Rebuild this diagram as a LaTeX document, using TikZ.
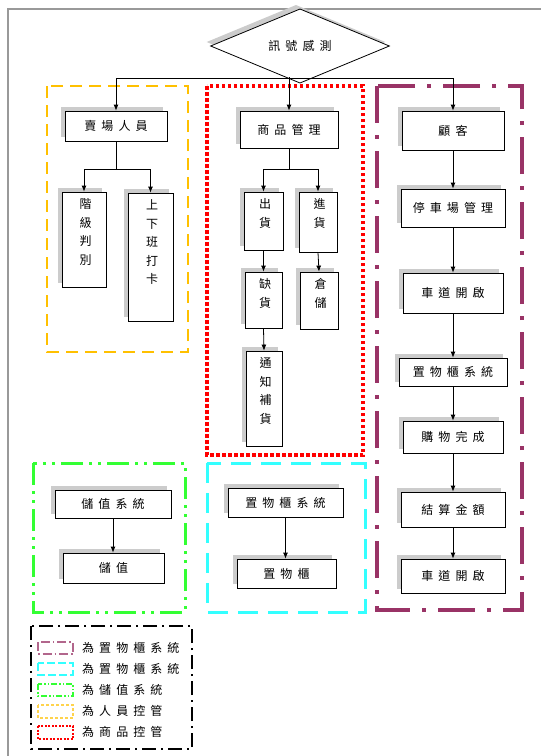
\documentclass[tikz,border=0pt]{standalone}
\usepackage{fontspec}
\usepackage{xcolor}
\usepackage{tikz}
\usetikzlibrary{arrows.meta,calc,shapes.geometric,shadows}
\newfontfamily\cjk[LetterSpace=42]{Noto Sans CJK TC}
\definecolor{lila}{HTML}{993366}
\definecolor{gelb}{HTML}{FFC000}
\definecolor{gruen}{HTML}{33FF33}
\definecolor{tuerkis}{HTML}{33FFFF}
\tikzset{
  schatten/.style={drop shadow={shadow xshift=-4pt,shadow yshift=4pt,fill=gray!40,opacity=1}},
  kasten/.style={draw,line width=0.8pt,fill=white,inner sep=0pt,schatten,
    font=\cjk\fontsize{12}{18}\selectfont},
  raute/.style={diamond,draw,line width=0.8pt,fill=white,inner sep=0pt,schatten,
    minimum width=179pt,minimum height=52pt,font=\cjk\fontsize{12}{18}\selectfont},
  hochtext/.style={anchor=north,yshift=-7pt,xshift=1.5pt,inner sep=0pt,align=center,
    font=\cjk\fontsize{12}{18.5}\selectfont},
  pfeil/.style={line width=0.8pt,-{Latex[length=6pt,width=5pt]}},
  lilarahmen/.style={lila,line width=4pt,dash pattern=on 37pt off 12pt on 4pt off 12pt},
  rotrahmen/.style={red,line width=4pt,dash pattern=on 3.5pt off 2.5pt},
  gelbrahmen/.style={gelb,line width=2pt,dash pattern=on 12pt off 7pt},
  gruenrahmen/.style={gruen,line width=3pt,dash pattern=on 22pt off 6pt on 3pt off 6pt on 3pt off 6pt},
  tuerkisrahmen/.style={tuerkis,line width=3pt,dash pattern=on 20pt off 10pt},
  legrahmen/.style={black,line width=2pt,dash pattern=on 14pt off 5pt on 2pt off 5pt},
  legtext/.style={anchor=west,inner sep=0pt,font=\cjk\fontsize{12}{18}\selectfont}
}
\newcommand{\Kasten}[6]{%
  \node[kasten,minimum width={#4-#2},minimum height={#5-#3}] (#1) at ({(#2+#4)/2},{(#3+#5)/2}) {#6};
}
\newcommand{\Hochkasten}[6]{%
  \node[kasten,minimum width={#4-#2},minimum height={#5-#3},
    label={[hochtext]north:{#6}}] (#1) at ({(#2+#4)/2},{(#3+#5)/2}) {};
}

\begin{document}
\begin{tikzpicture}[x=1pt,y=-1pt]
  \useasboundingbox (0,0) rectangle (541,756);
  \draw[gray!80,line width=1.2pt] (8,770) -- (8,9) -- (560,9);

  \draw[gelbrahmen] (47,86) rectangle (188,352);
  \draw[rotrahmen] (207,86) rectangle (363,455);
  \draw[lilarahmen] (377,86) rectangle (522,610);
  \draw[gruenrahmen] (33,463) rectangle (185,612);
  \draw[tuerkisrahmen] (207,463) rectangle (365,612);
  \draw[legrahmen] (31,626) rectangle (192,749);

  \node[raute] (sig) at (300,46) {訊號感測};

  \Kasten{staff}{65}{111}{167}{141}{賣場人員}
  \Hochkasten{rank}{62}{192}{106}{287}{階\\級\\判\\別}
  \Hochkasten{clock}{128}{193}{173}{321}{上\\下\\班\\打\\卡}

  \Kasten{goods}{240}{111}{338}{148}{商品管理}
  \Hochkasten{outbound}{244}{192}{283}{250}{出\\貨}
  \Hochkasten{inbound}{299}{192}{337}{252}{進\\貨}
  \Hochkasten{short}{245}{272}{282}{328}{缺\\貨}
  \Hochkasten{store}{300}{272}{338}{329}{倉\\儲}
  \Hochkasten{notify}{246}{351}{282}{446}{通\\知\\補\\貨}

  \Kasten{cust}{402}{111}{504}{150}{顧客}
  \Kasten{park}{401}{189}{505}{227}{停車場管理}
  \Kasten{laneA}{403}{273}{503}{313}{車道開啟}
  \Kasten{locker}{399}{358}{507}{386}{置物櫃系統}
  \Kasten{done}{403}{421}{503}{453}{購物完成}
  \Kasten{pay}{401}{492}{505}{527}{結算金額}
  \Kasten{laneB}{401}{559}{505}{593}{車道開啟}

  \Kasten{valsys}{55}{490}{171}{518}{儲值系統}
  \Kasten{deposit}{63}{553}{164}{583}{儲值}
  \Kasten{lsys}{228}{488}{343}{517}{置物櫃系統}
  \Kasten{lbox}{237}{559}{336}{588}{置物櫃}

  \coordinate (split) at (0,78);
  \coordinate (astA) at (0,169);
  \draw[pfeil] (goods.north |- sig.244) -- (goods.north);
  \draw[pfeil] (goods.north |- split) -| (staff.north);
  \draw[pfeil] (goods.north |- split) -| (cust.north);

  \draw[pfeil] (staff.south) -- (staff.south |- astA) -| (rank.north);
  \draw[pfeil] (staff.south |- astA) -| (clock.north);
  \draw[pfeil] (goods.south) -- (goods.south |- astA) -| (outbound.north);
  \draw[pfeil] (goods.south |- astA) -| (inbound.north);
  \draw[pfeil] (outbound.south) -- (short.north);
  \draw[pfeil] (inbound.south) -- (store.north);
  \draw[pfeil] (short.south) -- (notify.north);

  \draw[pfeil] (cust.south) -- (park.north);
  \draw[pfeil] (park.south) -- (laneA.north);
  \draw[pfeil] (laneA.south) -- (locker.north);
  \draw[pfeil] (locker.south) -- (done.north);
  \draw[pfeil] (done.south) -- (pay.north);
  \draw[pfeil] (pay.south) -- (laneB.north);
  \draw[pfeil] (valsys.south) -- (valsys.south |- deposit.north);
  \draw[pfeil] (lsys.south) -- (lsys.south |- lbox.north);

  \draw[lilarahmen,lila!75,line width=1.2pt,dash pattern=on 9pt off 3pt on 1.5pt off 3pt] (38,642) rectangle (73,654);
  \draw[tuerkisrahmen,line width=1.2pt,dash pattern=on 8pt off 3pt] (38,663) rectangle (73,675);
  \draw[gruenrahmen,line width=1.2pt,dash pattern=on 6pt off 2pt on 1.5pt off 2pt on 1.5pt off 2pt] (38,684) rectangle (73,696);
  \draw[gelbrahmen,gelb!70,line width=1.2pt,dash pattern=on 3pt off 2pt] (38,705) rectangle (73,718);
  \draw[rotrahmen,line width=2.2pt,dash pattern=on 2pt off 1.5pt] (38,726) rectangle (73,739);
  \node[legtext] (legA) at (82,648) {為置物櫃系統};
  \node[legtext] (legB) at (82,669) {為置物櫃系統};
  \node[legtext] (legC) at (82,690) {為儲值系統};
  \node[legtext] (legD) at (82,711) {為人員控管};
  \node[legtext] (legE) at (82,732) {為商品控管};
\end{tikzpicture}
\end{document}
